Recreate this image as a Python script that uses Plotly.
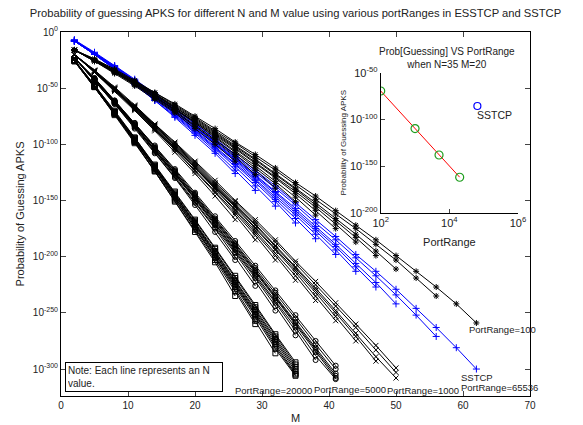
import plotly.graph_objects as go

# M values on the x axis (every line starts at M=2 and steps by 3)
m_grid = [2, 5, 8, 11, 14, 17, 20, 23, 26, 29, 32, 35, 38, 41, 44, 47, 50, 53, 56, 59, 62]

# exponents (log10 of probability), one list per N line
sstcp = [
    [-7, -18, -30, -42, -55, -68, -81, -95, -109, -123, -137, -152, -167, -182, -198, -213, -229, -246, -263, -281, -300],
    [-7, -19, -30, -43, -56, -69, -82, -96, -110, -125, -139, -154, -170, -185, -201, -217, -234, -252, -271],
    [-8, -19, -31, -43, -56, -70, -84, -98, -112, -127, -142, -157, -173, -189, -206, -223, -242],
    [-8, -19, -31, -44, -57, -70, -84, -99, -113, -128, -143, -159, -175, -191, -209, -227],
    [-8, -19, -31, -44, -57, -71, -85, -99, -114, -129, -145, -161, -177, -194, -213],
    [-8, -19, -32, -44, -58, -72, -86, -100, -115, -131, -147, -163, -180, -198],
    [-8, -19, -32, -45, -58, -72, -87, -102, -117, -132, -149, -166, -184],
    [-8, -20, -32, -45, -59, -73, -88, -103, -118, -134, -151, -170],
    [-8, -20, -33, -46, -60, -74, -89, -104, -120, -137, -155],
    [-8, -20, -33, -46, -61, -75, -90, -106, -123, -141],
    [-8, -20, -33, -47, -61, -76, -92, -108, -126],
]
pr100 = [
    [-16, -24, -33, -43, -54, -64, -75, -86, -98, -109, -121, -134, -146, -159, -172, -185, -199, -213, -227, -242, -259],
    [-16, -24, -34, -44, -54, -65, -76, -88, -99, -111, -123, -136, -149, -162, -175, -189, -203, -219, -235],
    [-16, -25, -34, -44, -55, -66, -77, -89, -101, -113, -126, -139, -152, -166, -180, -195, -211],
    [-16, -25, -35, -45, -55, -67, -78, -90, -102, -114, -127, -140, -154, -168, -183, -199],
    [-16, -25, -35, -45, -56, -67, -79, -91, -103, -116, -129, -142, -156, -171, -187],
    [-16, -25, -35, -46, -56, -68, -80, -92, -104, -117, -130, -144, -159, -175],
    [-16, -25, -35, -46, -57, -69, -80, -93, -106, -119, -133, -147, -163],
    [-16, -25, -36, -46, -58, -69, -81, -94, -107, -121, -135, -151],
    [-16, -26, -36, -47, -58, -70, -83, -96, -109, -123, -139],
    [-16, -26, -36, -47, -59, -71, -84, -97, -111, -127],
    [-16, -26, -37, -48, -60, -72, -86, -100, -115],
]
pr1000 = [
    [-20, -34, -49, -65, -82, -98, -115, -132, -150, -167, -185, -204, -222, -241, -260, -279, -299],
    [-20, -34, -50, -66, -82, -99, -116, -134, -151, -169, -187, -206, -225, -244, -263, -283, -303],
    [-20, -35, -50, -66, -83, -100, -117, -135, -153, -171, -190, -209, -228, -248, -268, -289, -308],
    [-20, -35, -51, -67, -83, -101, -118, -136, -154, -172, -191, -210, -230, -250, -271, -293],
    [-20, -35, -51, -67, -84, -101, -119, -137, -155, -174, -193, -212, -232, -253, -275],
    [-20, -35, -51, -68, -84, -102, -120, -138, -156, -175, -194, -214, -235, -257],
    [-20, -35, -51, -68, -85, -103, -121, -139, -158, -177, -197, -217, -239],
    [-20, -35, -52, -68, -86, -103, -121, -140, -159, -179, -199, -221],
    [-20, -36, -52, -69, -86, -104, -123, -142, -161, -181, -203],
    [-20, -36, -52, -69, -87, -105, -124, -143, -163, -185],
    [-20, -36, -53, -70, -88, -107, -126, -146, -167],
]
pr5000 = [
    [-23, -41, -61, -81, -101, -122, -143, -164, -186, -208, -230, -252, -275, -297],
    [-23, -41, -61, -81, -102, -123, -144, -166, -188, -210, -232, -255, -278, -300],
    [-23, -42, -62, -82, -103, -124, -145, -167, -189, -212, -235, -258, -281, -304],
    [-23, -42, -62, -82, -103, -124, -146, -168, -190, -213, -236, -259, -283, -306],
    [-23, -42, -62, -83, -104, -125, -147, -169, -191, -214, -237, -261, -285, -308],
    [-23, -42, -62, -83, -104, -126, -148, -170, -193, -216, -239, -263, -288, -309],
    [-23, -42, -63, -83, -105, -126, -148, -171, -194, -217, -241, -266, -292],
    [-23, -42, -63, -84, -105, -127, -149, -172, -196, -219, -244, -270],
    [-23, -43, -63, -84, -106, -128, -151, -174, -197, -222, -248],
    [-23, -43, -64, -85, -107, -129, -152, -175, -200, -226],
    [-23, -43, -64, -86, -108, -130, -154, -178, -203],
]
pr20000 = [
    [-25, -47, -70, -94, -118, -142, -167, -192, -217, -243, -269, -294],
    [-25, -47, -71, -94, -119, -143, -168, -193, -219, -245, -271, -296],
    [-25, -48, -71, -95, -119, -144, -169, -195, -221, -247, -273, -298],
    [-25, -48, -71, -95, -120, -145, -170, -196, -222, -248, -274, -300],
    [-25, -48, -72, -96, -120, -145, -171, -197, -223, -249, -276, -302],
    [-25, -48, -72, -96, -121, -146, -172, -198, -224, -251, -278, -304],
    [-25, -48, -72, -97, -121, -147, -173, -199, -225, -252, -280, -305],
    [-25, -49, -72, -97, -122, -148, -174, -200, -227, -254, -282, -306],
    [-26, -49, -73, -98, -123, -149, -175, -201, -229, -257, -286],
    [-26, -49, -73, -98, -124, -150, -176, -203, -231, -260],
    [-26, -49, -74, -99, -124, -151, -178, -205, -235],
]

# inset: N=35, M=20
inset_ports = [100, 1000, 5000, 20000]
inset_exp = [-69.6, -109.9, -138.2, -162.0]
sstcp_port = 65536
sstcp_exp = -85.7

FONT = "Liberation Sans, Arial, sans-serif"

fig = go.Figure()

groups = [
    (sstcp, "blue", "cross-thin-open"),
    (pr100, "black", "asterisk-open"),
    (pr1000, "black", "x-thin-open"),
    (pr5000, "black", "circle-open"),
    (pr20000, "black", "square-open"),
]
for lines, color, sym in groups:
    for ex in lines:
        fig.add_trace(go.Scatter(
            x=m_grid[:len(ex)], y=[10.0 ** e for e in ex],
            mode="lines+markers", line=dict(color=color, width=1),
            marker=dict(symbol=sym, size=5, color=color, line=dict(width=1, color=color)),
            showlegend=False, hoverinfo="skip"))

# inset traces
fig.add_trace(go.Scatter(x=inset_ports, y=[10.0 ** e for e in inset_exp], mode="lines+markers",
                         line=dict(color="red", width=1),
                         marker=dict(symbol="circle-open", size=8, color="#1e9e1e", line=dict(width=1.2)),
                         xaxis="x2", yaxis="y2", showlegend=False))
fig.add_trace(go.Scatter(x=[sstcp_port], y=[10.0 ** sstcp_exp], mode="markers",
                         marker=dict(symbol="circle-open", size=7, color="blue", line=dict(width=1.2)),
                         xaxis="x2", yaxis="y2", showlegend=False))

# the page puts the figure 8px in from the top-left, so the figure is 8px smaller
ytick_exp = [0, -50, -100, -150, -200, -250, -300]
fig.update_layout(
    width=575, height=417,
    margin=dict(l=53, r=53, t=24, b=29),
    paper_bgcolor="white", plot_bgcolor="white",
    font=dict(family=FONT, size=10, color="#222"),
    title=dict(text="Probability of guessing APKS for different N and M value using various portRanges in ESSTCP and SSTCP",
               x=0.5, xanchor="center", yref="container", y=0.988, yanchor="middle",
               font=dict(size=11.2, color="#222")),
    xaxis=dict(range=[0, 70], tickvals=list(range(0, 71, 10)), ticks="inside", ticklen=5,
               showline=True, linecolor="black", linewidth=1, mirror="allticks", showgrid=False,
               zeroline=False, automargin=False, title=dict(text="M", standoff=4, font=dict(size=11))),
    yaxis=dict(type="log", range=[-324, 0], tickvals=[10.0 ** e for e in ytick_exp],
               ticktext=["10<sup>%d</sup>" % e for e in ytick_exp], ticks="inside", ticklen=5,
               showline=True, linecolor="black", linewidth=1, mirror="allticks", showgrid=False,
               zeroline=False, automargin=False,
               title=dict(text="Probability of Guessing APKS", standoff=6, font=dict(size=11))),
    xaxis2=dict(type="log", domain=[0.6817, 0.9744], anchor="y2", range=[2, 6],
                tickvals=[1e2, 1e4, 1e6], ticktext=["10<sup>2</sup>", "10<sup>4</sup>", "10<sup>6</sup>"],
                ticks="inside", ticklen=4, showline=True, linecolor="black", linewidth=1,
                showgrid=False, zeroline=False, tickfont=dict(size=11), automargin=False,
                title=dict(text="PortRange", standoff=10, font=dict(size=11))),
    yaxis2=dict(type="log", domain=[0.5036, 0.8882], anchor="x2", range=[-200, -50],
                tickvals=[1e-50, 1e-100, 1e-150, 1e-200],
                ticktext=["10<sup>-50</sup>", "10<sup>-100</sup>", "10<sup>-150</sup>", "10<sup>-200</sup>"],
                ticks="inside", ticklen=4, showline=True, linecolor="black", linewidth=1,
                showgrid=False, zeroline=False, tickfont=dict(size=11), automargin=False,
                title=dict(text="Probability of Guessing APKS", standoff=2, font=dict(size=8))),
)

# labels inside main axes
labels = [
    (60.6, -265, "PortRange=100"),
    (59.4, -307.5, "SSTCP"),
    (59.4, -316.5, "PortRange=65536"),
    (48.4, -319, "PortRange=1000"),
    (37.4, -318, "PortRange=5000"),
    (25.7, -319, "PortRange=20000"),
]
for x, y, t in labels:
    fig.add_annotation(x=x, y=y, text=t, showarrow=False, xanchor="left", yanchor="middle",
                       font=dict(size=9.5, color="#222"), xref="x", yref="y")

fig.add_annotation(x=0.6, y=-293.5, text="Note: Each line represents an N<br>value.", showarrow=False,
                   xanchor="left", yanchor="top", align="left", xref="x", yref="y",
                   bordercolor="black", borderwidth=1, borderpad=2, bgcolor="white",
                   width=152, font=dict(size=10, color="#222"))

# inset title and SSTCP label
fig.add_annotation(x=0.823, y=0.968, xref="paper", yref="paper", text="Prob[Guessing] VS PortRange<br>when N=35 M=20",
                   showarrow=False, xanchor="center", yanchor="top", font=dict(size=10, color="#222"))
fig.add_annotation(x=4.75, y=-95, xref="x2", yref="y2", text="SSTCP", showarrow=False,
                   xanchor="left", yanchor="middle", font=dict(size=10.5, color="#222"))

fig.write_html("out.html")
